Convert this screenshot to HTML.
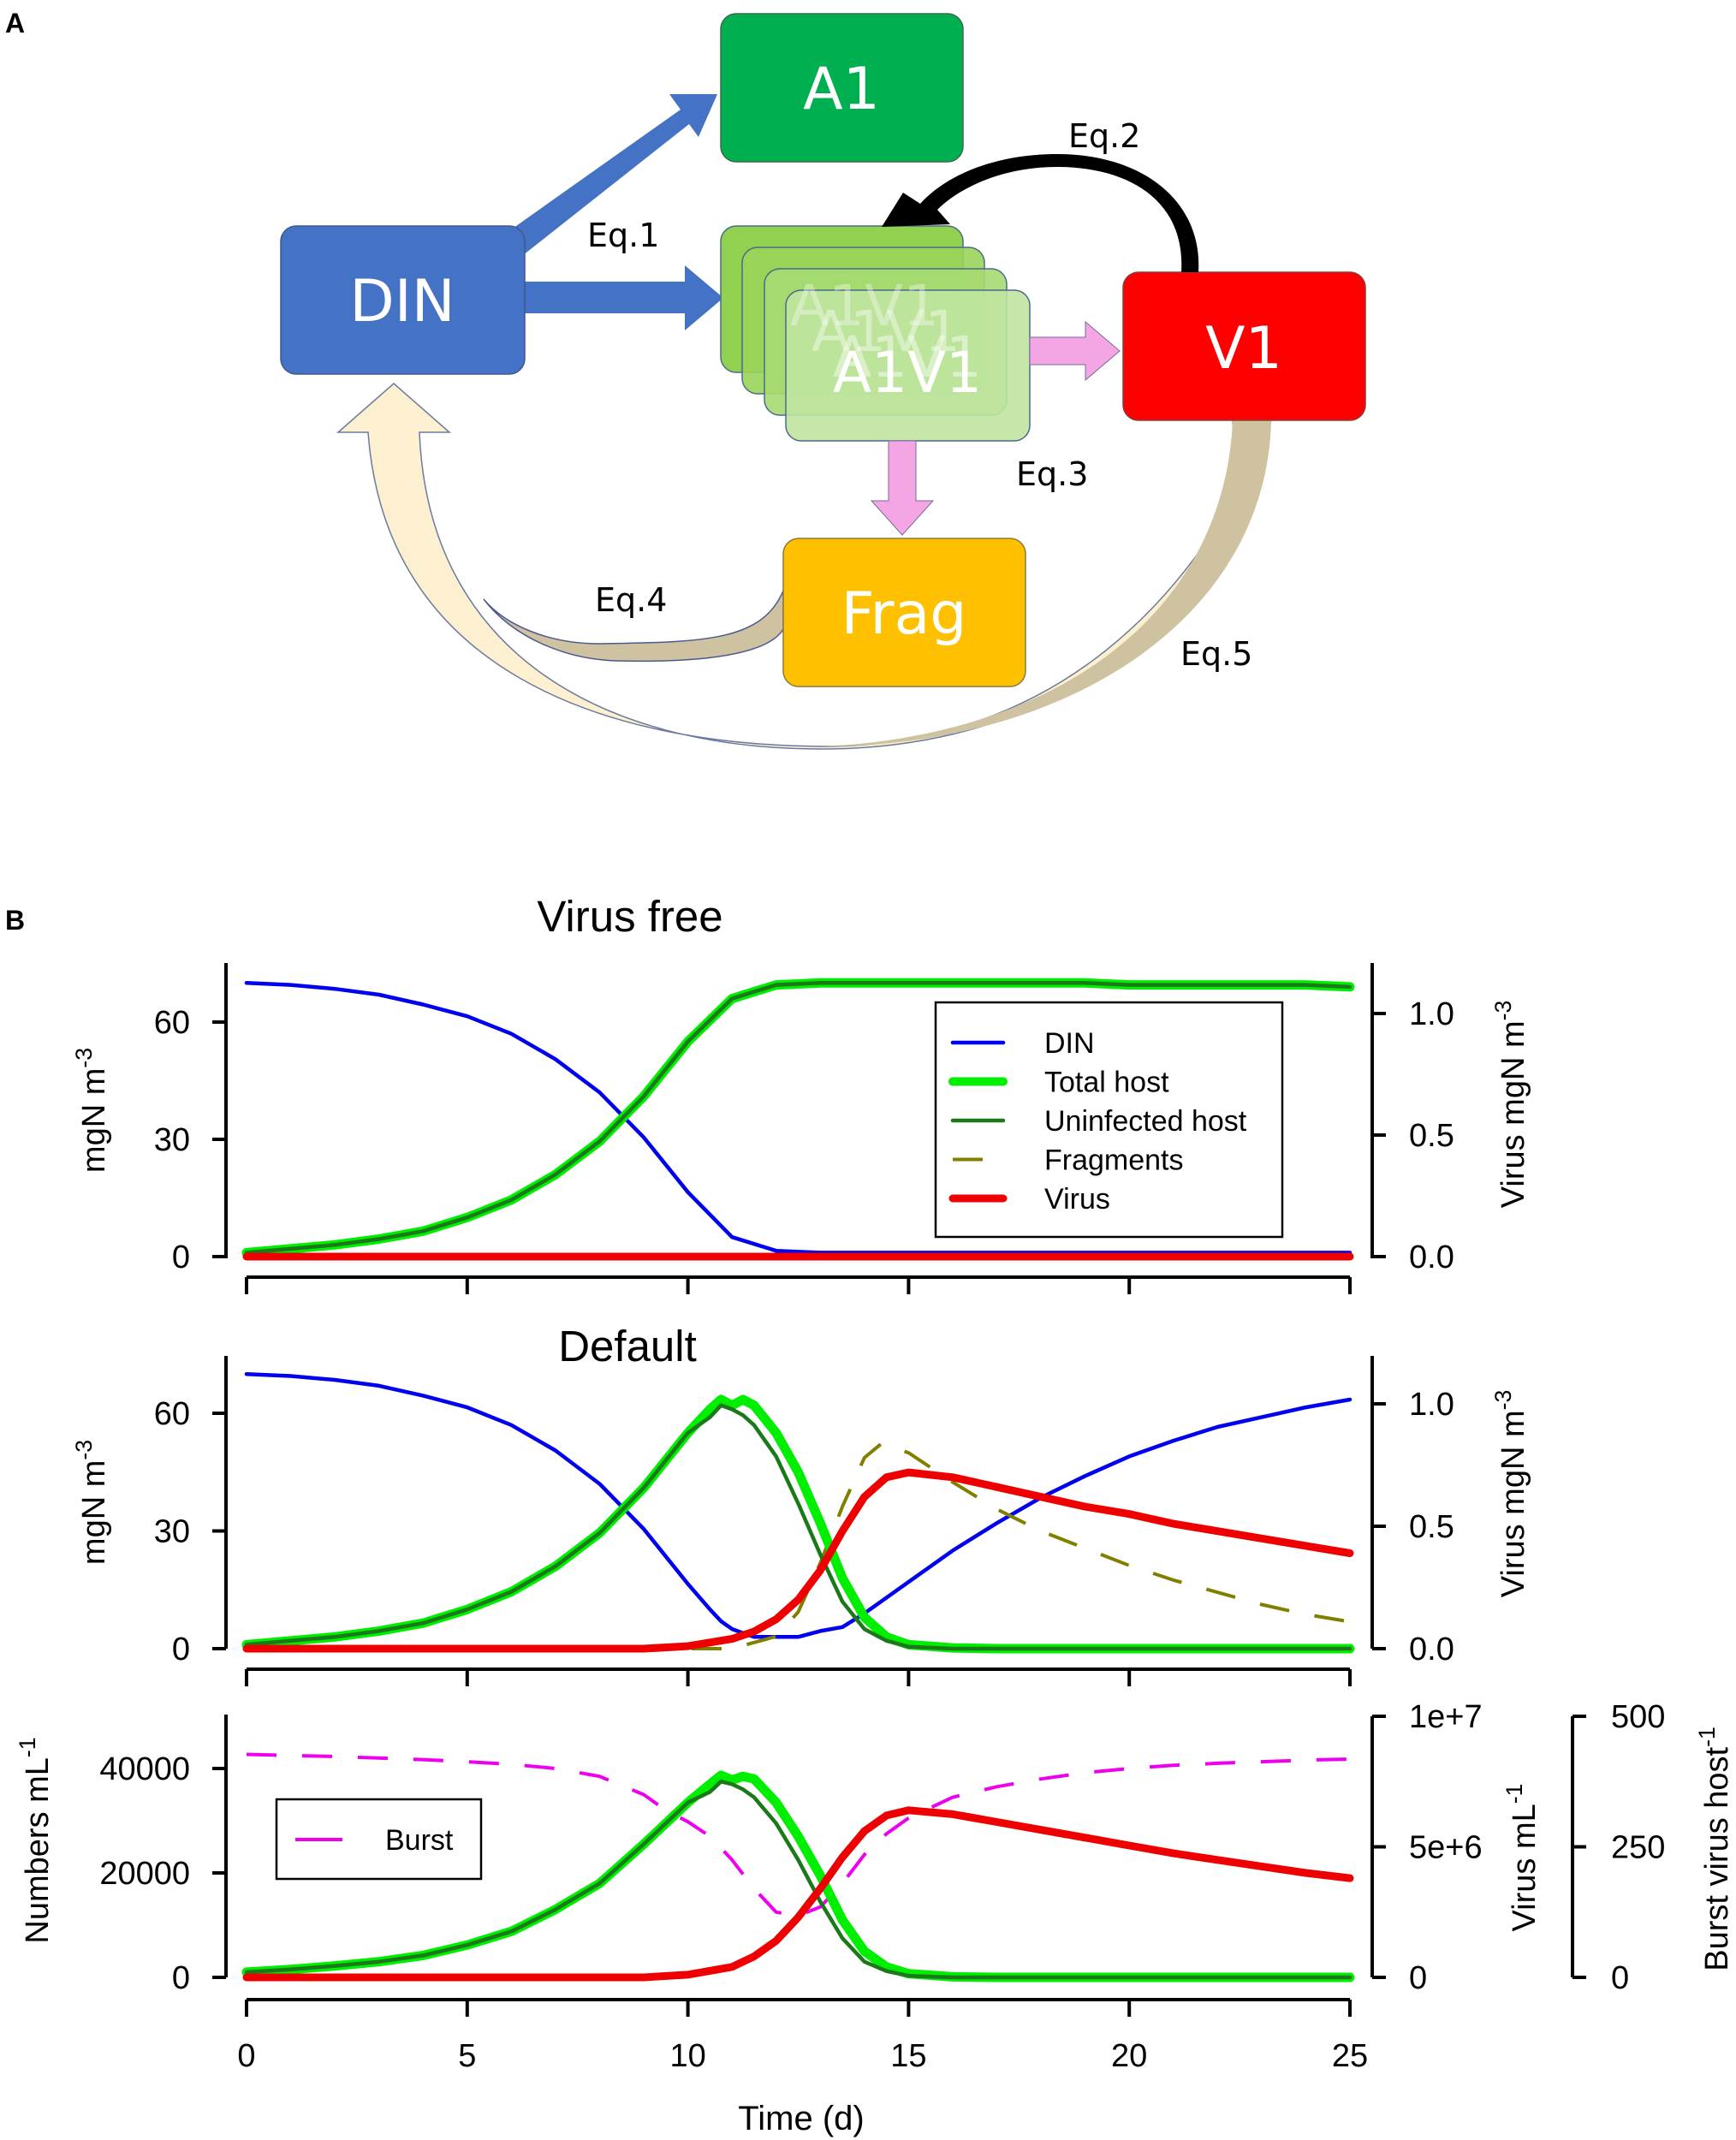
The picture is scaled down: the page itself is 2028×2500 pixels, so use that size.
<!DOCTYPE html>
<html><head><meta charset="utf-8"><style>
html,body{margin:0;padding:0;background:#fff;}
svg{display:block;font-family:"Liberation Sans",Arial,sans-serif;}
.dg{font-family:"DejaVu Sans","Liberation Sans",sans-serif;}
</style></head><body>
<svg id="fig" width="2028" height="2500" viewBox="0 0 2028 2500" xmlns="http://www.w3.org/2000/svg">
<text x="6" y="38" font-size="32" font-weight="bold">A</text>
<text x="6" y="1086" font-size="32" font-weight="bold">B</text>
<g class="dg">
  <path d="M1440,491 C1460,700 1250,875 960,875 C700,875 500,760 490,505 L525,505 L460,448 L395,505 L430,505 C450,780 700,870 960,872 C1230,872 1400,700 1485,491 Z" fill="#fdf0d0" stroke="#6a7aa0" stroke-width="1.5"/>
  <path d="M1485,491 C1480,720 1250,872 960,872 C1230,860 1430,720 1440,491 Z" fill="#cfc2a0"/>
  <path d="M915,690 C890,750 820,750 700,752 C640,752 590,730 565,700 C600,745 660,770 720,772 C840,775 900,760 915,735 Z" fill="#cfc2a0" stroke="#4a5a90" stroke-width="1.5"/>
  <polygon points="586,276 795,128 782,110 838,110 816,160 805,145 606,302" fill="#4472c4"/>
  <polygon points="613,329 800,329 800,310 845,348 800,386 800,366 613,366" fill="#4472c4"/>
  <rect x="842" y="16" width="283" height="173" rx="18" fill="#00b050" stroke="#3a6a4a" stroke-width="1.5"/>
  <text x="983" y="127" font-size="68" fill="#fff" text-anchor="middle">A1</text>
  <rect x="328" y="264" width="285" height="173" rx="18" fill="#4472c4" stroke="#3a5a90" stroke-width="1.5"/>
  <text x="470" y="375" font-size="68" fill="#fff" text-anchor="middle">DIN</text>
  <rect x="842" y="264" width="283" height="171" rx="18" fill="#92d050" stroke="#4a6a8a" stroke-width="1.5"/>
  <rect x="867" y="289" width="283" height="171" rx="18" fill="#9ad45a" fill-opacity="0.9" stroke="#4a6a8a" stroke-width="1.5"/>
  <rect x="893" y="314" width="283" height="171" rx="18" fill="#a6da72" fill-opacity="0.9" stroke="#4a6a8a" stroke-width="1.5"/>
  <rect x="918" y="339" width="285" height="176" rx="18" fill="#c0e4a0" fill-opacity="0.9" stroke="#4a6a8a" stroke-width="1.5"/>
  <text x="1010" y="380" font-size="66" fill="#fff" fill-opacity="0.35" text-anchor="middle">A1V1</text>
  <text x="1035" y="410" font-size="66" fill="#fff" fill-opacity="0.4" text-anchor="middle">A1V1</text>
  <text x="1060" y="440" font-size="66" fill="#fff" fill-opacity="0.45" text-anchor="middle">A1V1</text>
  <text x="1060" y="458" font-size="66" fill="#fff" text-anchor="middle">A1V1</text>
  <rect x="1312" y="318" width="283" height="173" rx="18" fill="#ff0000" stroke="#8a3a3a" stroke-width="1.5"/>
  <text x="1453" y="430" font-size="68" fill="#fff" text-anchor="middle">V1</text>
  <rect x="915" y="629" width="283" height="173" rx="18" fill="#ffc000" stroke="#8a7a3a" stroke-width="1.5"/>
  <text x="1056" y="740" font-size="68" fill="#fff" text-anchor="middle">Frag</text>
  <polygon points="1203,394 1268,394 1268,376 1308,410 1268,444 1268,426 1203,426" fill="#f4a6e4" stroke="#7a6a9a" stroke-width="1"/>
  <polygon points="1038,515 1070,515 1070,585 1090,585 1054,625 1018,585 1038,585" fill="#f4a6e4" stroke="#7a6a9a" stroke-width="1"/>
  <path d="M1380,318 C1385,235 1320,195 1235,195 C1170,195 1120,220 1095,245 L1110,262 L1030,265 L1055,225 L1075,238 C1110,200 1170,180 1235,180 C1335,180 1405,235 1400,318 Z" fill="#000"/>
  <text x="686" y="288" font-size="38">Eq.1</text>
  <text x="1248" y="172" font-size="38">Eq.2</text>
  <text x="1187" y="567" font-size="38">Eq.3</text>
  <text x="695" y="714" font-size="38">Eq.4</text>
  <text x="1379" y="777" font-size="38">Eq.5</text>
</g>
<g id="charts"></g>
</svg>
<script>
// ---- data ----
const t1 = [0,1,2,3,4,5,6,7,8,9,10,11,12,13,14,15,16,17,18,19,20,21,22,23,24,25];
const vfDin = [70,69.5,68.5,67,64.5,61.5,57,50.5,42,30.5,16.5,5,1.5,1,1,1,1,1,1,1,1,1,1,1,1,1];
const vfHost = [1,2,3,4.5,6.5,10,14.5,21,29.5,41,55,66,69.5,70,70,70,70,70,70,70,69.5,69.5,69.5,69.5,69.5,69];
const vfVirus = [0,0,0,0,0,0,0,0,0,0,0,0,0,0,0,0,0,0,0,0,0,0,0,0,0,0];

const tD = [0,1,2,3,4,5,6,7,8,9,10,10.5,10.75,11,11.25,11.5,12,12.5,13,13.5,14,14.5,15,16,17,18,19,20,21,22,23,24,25];
const dDin = [70,69.5,68.5,67,64.5,61.5,57,50.5,42,30.5,16.5,10,7,5,4,3,3,3,4.5,5.5,9,13,17,25,32,38.5,44,49,53,56.5,59,61.5,63.5];
const dHost = [1,2,3,4.5,6.5,10,14.5,21,29.5,41,55,61,63.5,62,63.5,62,55,45,32,18,8,3,1,0.2,0,0,0,0,0,0,0,0,0];
const dUninf = [1,2,3,4.5,6.5,10,14.5,21,29.5,41,55,59,62,61,59.5,57,49,37,24,12,5,2,0.5,0,0,0,0,0,0,0,0,0,0];

const tF = [0,10,11,12,12.5,13,13.5,14,14.4,15,16,17,18,19,20,21,22,23,24,25];
const dFrag = [0,0,0,0.05,0.15,0.35,0.58,0.78,0.84,0.8,0.68,0.57,0.48,0.41,0.34,0.28,0.23,0.18,0.14,0.11];
const tV = [0,9,10,11,11.5,12,12.5,13,13.5,14,14.5,15,16,17,18,19,20,21,22,23,24,25];
const dVirus = [0,0,0.01,0.04,0.07,0.12,0.2,0.32,0.48,0.62,0.7,0.72,0.7,0.66,0.62,0.58,0.55,0.51,0.48,0.45,0.42,0.39];

const nHost = [1000,1500,2200,3000,4200,6200,8800,13000,18000,25500,33500,37000,38700,37800,38500,38000,33500,27000,19500,11000,5000,2000,700,100,0,0,0,0,0,0,0,0,0];
const nUninf = [1000,1500,2200,3000,4200,6200,8800,13000,18000,25500,33500,35500,37500,37000,36000,34500,29500,22500,14500,7500,3000,1200,300,0,0,0,0,0,0,0,0,0,0];
const nVirus = [0,0,0.1,0.4,0.8,1.4,2.3,3.4,4.6,5.6,6.2,6.4,6.25,5.95,5.65,5.35,5.05,4.75,4.5,4.25,4.0,3.8]; // x1e6
const tB = [0,2,4,5,6,7,8,9,9.5,10,10.5,11,11.5,12,12.5,13,13.5,14,14.5,15,16,17,18,19,20,21,22,23,24,25];
const nBurst = [427,423,417,413,408,400,385,350,320,298,270,225,170,125,118,135,180,235,275,305,345,365,380,392,400,406,410,413,416,418];

const xTicks = [0,5,10,15,20,25];
const mgTicks = [0,30,60];
const vTicks = [0,0.5,1.0];
const vTickLabels = ["0.0","0.5","1.0"];
const numTicks = [0,20000,40000];
const virTicks = [0,5,10];
const virTickLabels = ["0","5e+6","1e+7"];
const burstTicks = [0,250,500];

// ---- helpers ----
const NS = "http://www.w3.org/2000/svg";
const root = document.getElementById('charts');
const X0 = 288, X1 = 1577;
const xs = t => X0 + t * (X1 - X0) / 25;
function mk(tag, attrs, parent) {
  const e = document.createElementNS(NS, tag);
  for (const k in attrs) e.setAttribute(k, attrs[k]);
  (parent || root).appendChild(e);
  return e;
}
function txt(x, y, s, size, anchor, parent, rot) {
  const e = mk('text', {x: x, y: y, 'font-size': size, 'text-anchor': anchor || 'start'}, parent);
  if (rot) e.setAttribute('transform', 'rotate(-90 ' + x + ' ' + y + ')');
  e.textContent = s;
  return e;
}
function line(ts, vs, ys, stroke, w, dash, parent) {
  const d = ts.map((t, i) => (i ? 'L' : 'M') + xs(t).toFixed(1) + ',' + ys(vs[i]).toFixed(1)).join(' ');
  const p = mk('path', {d: d, fill: 'none', stroke: stroke, 'stroke-width': w, 'stroke-linejoin': 'round', 'stroke-linecap': dash ? 'butt' : 'round'}, parent);
  if (dash) p.setAttribute('stroke-dasharray', dash);
  return p;
}
function bottomAxis(y, labels, g) {
  mk('line', {x1: X0, y1: y, x2: X1, y2: y, stroke: '#000', 'stroke-width': 4}, g);
  xTicks.forEach(t => {
    mk('line', {x1: xs(t), y1: y, x2: xs(t), y2: y + 20, stroke: '#000', 'stroke-width': 4}, g);
    if (labels) {
      const l = txt(xs(t), y + 78, String(t), 38, 'middle', g);
      
      
    }
  });
}
function vAxis(x, top, bottom, ticks, labels, ys, side, lx, g) {
  mk('line', {x1: x, y1: top, x2: x, y2: bottom, stroke: '#000', 'stroke-width': 4}, g);
  ticks.forEach((v, i) => {
    const y = ys(v);
    mk('line', {x1: x, y1: y, x2: x + (side === 'left' ? -16 : 16), y2: y, stroke: '#000', 'stroke-width': 4}, g);
    const l = txt(lx, y + 13, labels[i], 38, side === 'left' ? 'end' : 'start', g);
    
    
  });
}
function hostLines(ts, host, unin, ys, g) {
  line(ts, host, ys, '#00ee00', 11, null, g);
  line(ts, unin, ys, '#1a7a1a', 4.5, null, g);
}
function sup(x, y, base, s, size, g) {
  const t = mk('text', {x: x, y: y, 'font-size': size, 'text-anchor': 'middle', transform: 'rotate(-90 ' + x + ' ' + y + ')'}, g);
  t.appendChild(document.createTextNode(base));
  const ts = mk('tspan', {'baseline-shift': 'super', 'font-size': size * 0.7}, t);
  ts.textContent = s;
  return t;
}

// ---- panel 1: virus free ----
{
  const g = mk('g', {});
  
  
  const yL = v => 1468 - v * 274 / 60;
  const yR = v => 1468 - v * 284;
  const tt = txt(736, 1088, 'Virus free', 51, 'middle', g);
  
  
  vAxis(264, 1125, 1470, mgTicks, mgTicks.map(String), yL, 'left', 222, g);
  vAxis(1603, 1125, 1470, vTicks, vTickLabels, yR, 'right', 1646, g);
  bottomAxis(1492, false, g);
  const a = sup(122, 1297, 'mgN m', '-3', 38, g);
  
  
  const b = sup(1780, 1290, 'Virus mgN m', '-3', 38, g);
  
  
  const l1 = line(t1, vfDin, yL, '#0000ee', 4.5, null, g);
  
  
  hostLines(t1, vfHost, vfHost, yL, g);
  const l2 = line(t1, vfVirus, yR, '#ee0000', 9, null, g);
  
  
  const lg = mk('g', {}, g);
  
  
  mk('rect', {x: 1093, y: 1171, width: 405, height: 274, fill: '#fff', stroke: '#000', 'stroke-width': 2.5}, lg);
  const names = ['DIN', 'Total host', 'Uninfected host', 'Fragments', 'Virus'];
  const cols = ['#0000ee', '#00ee00', '#1a7a1a', '#808000', '#ee0000'];
  const ws = [4.5, 10, 4.5, 4, 9];
  names.forEach((n, i) => {
    const y = 1218 + i * 45.5;
    const e = mk('line', {x1: 1113, y1: y, x2: 1172, y2: y, stroke: cols[i], 'stroke-width': ws[i], 'stroke-linecap': i === 3 ? 'butt' : 'round'}, lg);
    if (i === 3) e.setAttribute('stroke-dasharray', '35 30');
    
    
    const tx = txt(1220, y + 12, n, 34, 'start', lg);
    
    
  });
}

// ---- panel 2: default ----
{
  const g = mk('g', {});
  
  
  const yL = v => 1926 - v * 275 / 60;
  const yR = v => 1926 - v * 286;
  const tt = txt(733, 1590, 'Default', 51, 'middle', g);
  
  
  vAxis(264, 1584, 1926, mgTicks, mgTicks.map(String), yL, 'left', 222, g);
  vAxis(1603, 1584, 1926, vTicks, vTickLabels, yR, 'right', 1646, g);
  bottomAxis(1950, false, g);
  const a = sup(122, 1755, 'mgN m', '-3', 38, g);
  
  
  const b = sup(1780, 1745, 'Virus mgN m', '-3', 38, g);
  
  
  const l1 = line(tD, dDin, yL, '#0000ee', 4.5, null, g);
  
  
  const l3 = line(tF, dFrag, yR, '#808000', 4, '35 30', g);
  
  
  hostLines(tD, dHost, dUninf, yL, g);
  const l2 = line(tV, dVirus, yR, '#ee0000', 9, null, g);
  
  
}

// ---- panel 3: numbers ----
{
  const g = mk('g', {});
  
  
  const yL = v => 2310 - v * 244 / 40000;
  const yV = v => 2310 - v * 30.5;
  const yB = v => 2310 - v * 0.61;
  vAxis(264, 2003, 2310, numTicks, numTicks.map(String), yL, 'left', 222, g);
  vAxis(1603, 2005, 2310, virTicks, virTickLabels, yV, 'right', 1646, g);
  vAxis(1837, 2005, 2310, burstTicks, burstTicks.map(String), yB, 'right', 1882, g);
  bottomAxis(2336, true, g);
  const xt = txt(936, 2488, 'Time (d)', 40, 'middle', g);
  
  
  const a = sup(56, 2150, 'Numbers mL', '-1', 38, g);
  
  
  const b = sup(1793, 2170, 'Virus mL', '-1', 38, g);
  
  
  const c = sup(2018, 2160, 'Burst virus host', '-1', 38, g);
  
  
  const l4 = line(tB, nBurst, yB, '#ee00ee', 4, '35 30', g);
  
  
  hostLines(tD, nHost, nUninf, yL, g);
  const l2 = line(tV, nVirus, yV, '#ee0000', 9, null, g);
  
  
  const lg = mk('g', {}, g);
  
  
  mk('rect', {x: 323, y: 2102, width: 239, height: 93, fill: '#fff', stroke: '#000', 'stroke-width': 2.5}, lg);
  mk('line', {x1: 345, y1: 2149, x2: 400, y2: 2149, stroke: '#ee00ee', 'stroke-width': 4}, lg);
  const lt = txt(450, 2161, 'Burst', 34, 'start', lg);
  
  
}
</script>
</body></html>
